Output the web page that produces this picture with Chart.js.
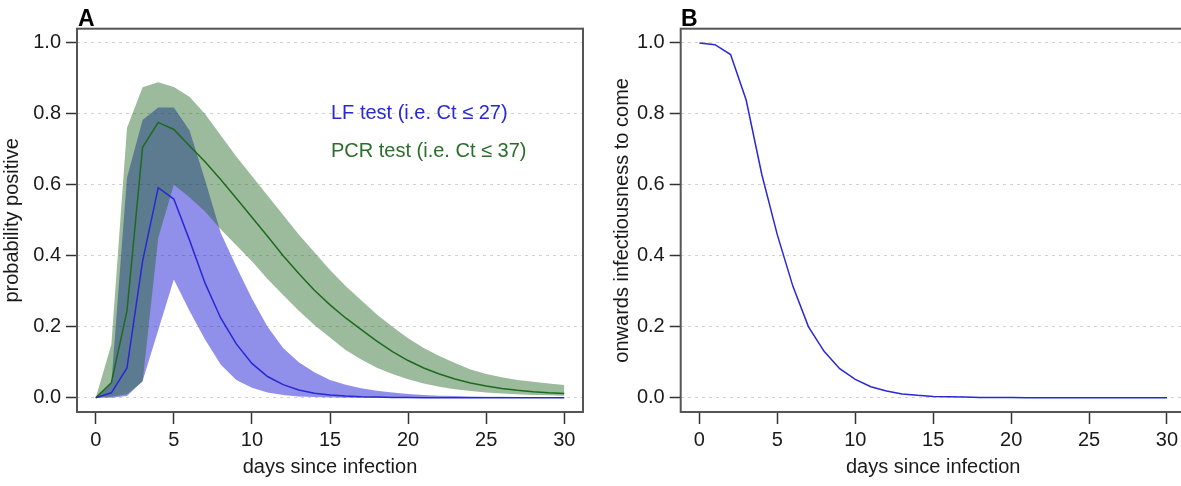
<!DOCTYPE html>
<html><head><meta charset="utf-8">
<script src="https://cdn.jsdelivr.net/npm/chart.js@4/dist/chart.umd.min.js"></script>
<style>
html,body{margin:0;padding:0;background:#fff;overflow:hidden;width:1181px;height:486px;position:relative;}
canvas{position:absolute;top:0;}
#cA{left:0;} #cB{left:600px;}
</style></head><body>
<canvas id="cA" width="600" height="486"></canvas>
<canvas id="cB" width="600" height="486"></canvas>
<script>
// ---- data ----
const days = [0,1,2,3,4,5,6,7,8,9,10,11,12,13,14,15,16,17,18,19,20,21,22,23,24,25,26,27,28,29,30];
const xTicks = [0,5,10,15,20,25,30];
const yTicks = [0,0.2,0.4,0.6,0.8,1.0];

const lfMed = [0,0.014,0.084,0.385,0.592,0.56,0.445,0.323,0.225,0.152,0.097,0.06,0.037,0.022,0.013,0.008,0.005,0.003,0.002,0.001,0.001,0,0,0,0,0,0,0,0,0,0];
const lfLow = [0,0,0.005,0.047,0.19,0.333,0.245,0.164,0.094,0.05,0.028,0.015,0.008,0.004,0.002,0.001,0,0,0,0,0,0,0,0,0,0,0,0,0,0,0];
const lfUp  = [0,0.04,0.62,0.783,0.818,0.818,0.754,0.614,0.465,0.37,0.28,0.2,0.14,0.1,0.072,0.05,0.037,0.027,0.02,0.015,0.011,0.008,0.006,0.005,0.004,0.003,0.003,0.002,0.002,0.002,0.001];

const pcrMed = [0,0.042,0.245,0.706,0.776,0.756,0.71,0.665,0.615,0.562,0.509,0.455,0.40,0.35,0.303,0.262,0.225,0.192,0.16,0.13,0.105,0.084,0.067,0.053,0.042,0.033,0.026,0.021,0.017,0.014,0.012];
const pcrLow = [0,0.003,0.01,0.045,0.45,0.60,0.565,0.525,0.475,0.43,0.385,0.335,0.29,0.245,0.205,0.17,0.135,0.108,0.085,0.067,0.052,0.04,0.031,0.024,0.019,0.015,0.012,0.01,0.008,0.007,0.006];
const pcrUp  = [0,0.15,0.76,0.875,0.889,0.876,0.848,0.80,0.74,0.68,0.625,0.57,0.515,0.46,0.41,0.36,0.315,0.275,0.235,0.2,0.168,0.14,0.118,0.098,0.08,0.067,0.058,0.05,0.045,0.04,0.036];

const onwards = [1.0,0.995,0.967,0.839,0.63,0.459,0.314,0.20,0.131,0.082,0.052,0.031,0.019,0.011,0.007,0.004,0.003,0.002,0.001,0.001,0.001,0,0,0,0,0,0,0,0,0,0];

const seriesLabels = ['LF test (i.e. Ct \u2264 27)', 'PCR test (i.e. Ct \u2264 37)'];

// ---- styles ----
const FONT = "'Liberation Sans', Arial, Helvetica, sans-serif";
Chart.defaults.font.family = FONT;
Chart.defaults.font.size = 20;
Chart.defaults.color = '#1a1a1a';

const BLUE = '#2828d4';
const GREEN = '#1e6a1e';
const BLUE_FILL = 'rgba(20,20,210,0.47)';
const GREEN_FILL = 'rgba(20,90,20,0.42)';

const pts = arr => arr.map((v,i) => ({x: days[i], y: v}));

function xScale() {
  return {
    type: 'linear', min: -1.2, max: 31.2,
    afterBuildTicks: s => { s.ticks = xTicks.map(v => ({value: v})); },
    afterFit: s => { s.height = 74; },
    grid: {display: true, drawOnChartArea: false, drawTicks: true, tickLength: 12, tickColor: '#333', tickWidth: 1.5, tickBorderDash: []},
    border: {display: false},
    ticks: {padding: 4, color: '#1a1a1a', maxRotation: 0, autoSkip: false, callback: v => String(v)},
    title: {display: true, text: 'days since infection', color: '#1a1a1a', padding: {top: 0, bottom: 7}}
  };
}
function yScale(text, width, padTop) {
  return {
    type: 'linear', min: -0.04, max: 1.04,
    afterBuildTicks: s => { s.ticks = yTicks.map(v => ({value: v})); },
    afterFit: s => { s.width = width; },
    grid: {display: true, drawOnChartArea: true, color: '#d2d2d2', lineWidth: 1, drawTicks: true, tickLength: 11, tickColor: '#333', tickWidth: 1.5, tickBorderDash: []},
    border: {display: false, dash: [3, 4]},
    ticks: {padding: 5, color: '#1a1a1a', callback: v => Number(v).toFixed(1)},
    title: {display: true, text: text, color: '#1a1a1a', padding: {top: padTop, bottom: 0}}
  };
}

const boxPlugin = {
  id: 'box',
  afterDatasetsDraw(chart) {
    const a = chart.chartArea, ctx = chart.ctx;
    ctx.save();
    ctx.strokeStyle = '#555';
    ctx.lineWidth = 2;
    ctx.strokeRect(a.left, a.top, a.right - a.left, a.bottom - a.top);
    ctx.restore();
  }
};
function textPlugin(letter, letterX, legend) {
  return {
    id: 'txt' + letter,
    afterDraw(chart) {
      const ctx = chart.ctx;
      ctx.save();
      ctx.font = 'bold 23px ' + FONT;
      ctx.fillStyle = '#000';
      ctx.textBaseline = 'alphabetic';
      ctx.textAlign = 'left';
      ctx.fillText(letter, letterX, 26);
      if (legend) {
        ctx.font = '20px ' + FONT;
        ctx.fillStyle = BLUE;
        ctx.fillText(seriesLabels[0], 331, 119);
        ctx.fillStyle = '#2a6e2a';
        ctx.fillText(seriesLabels[1], 331, 157);
      }
      ctx.restore();
    }
  };
}

new Chart(document.getElementById('cA'), {
  type: 'line',
  data: {
    datasets: [
      {label: 'LF median', data: pts(lfMed), borderColor: BLUE, borderWidth: 1.5, pointRadius: 0, fill: false, tension: 0},
      {label: 'PCR median', data: pts(pcrMed), borderColor: GREEN, borderWidth: 1.5, pointRadius: 0, fill: false, tension: 0},
      {label: 'PCR upper', data: pts(pcrUp), borderColor: 'rgba(0,0,0,0)', borderWidth: 0, pointRadius: 0, fill: '+1', backgroundColor: GREEN_FILL, tension: 0},
      {label: 'PCR lower', data: pts(pcrLow), borderColor: 'rgba(0,0,0,0)', borderWidth: 0, pointRadius: 0, fill: false, tension: 0},
      {label: 'LF upper', data: pts(lfUp), borderColor: 'rgba(0,0,0,0)', borderWidth: 0, pointRadius: 0, fill: '+1', backgroundColor: BLUE_FILL, tension: 0},
      {label: 'LF lower', data: pts(lfLow), borderColor: 'rgba(0,0,0,0)', borderWidth: 0, pointRadius: 0, fill: false, tension: 0}
    ]
  },
  options: {
    responsive: false, animation: false,
    layout: {padding: {left: 0, right: 17, top: 28.7, bottom: 0}},
    plugins: {legend: {display: false}, tooltip: {enabled: false}},
    scales: {x: xScale(), y: yScale('probability positive', 77, 0)}
  },
  plugins: [boxPlugin, textPlugin('A', 78, true)]
});

new Chart(document.getElementById('cB'), {
  type: 'line',
  data: {
    datasets: [
      {label: 'onwards infectiousness', data: pts(onwards), borderColor: BLUE, borderWidth: 1.5, pointRadius: 0, fill: false, tension: 0}
    ]
  },
  options: {
    responsive: false, animation: false,
    layout: {padding: {left: 0, right: 14.3, top: 28.7, bottom: 0}},
    plugins: {legend: {display: false}, tooltip: {enabled: false}},
    scales: {x: xScale(), y: yScale('onwards infectiousness to come', 80.7, 10.6)}
  },
  plugins: [boxPlugin, textPlugin('B', 81, false)]
});
</script>
</body></html>
